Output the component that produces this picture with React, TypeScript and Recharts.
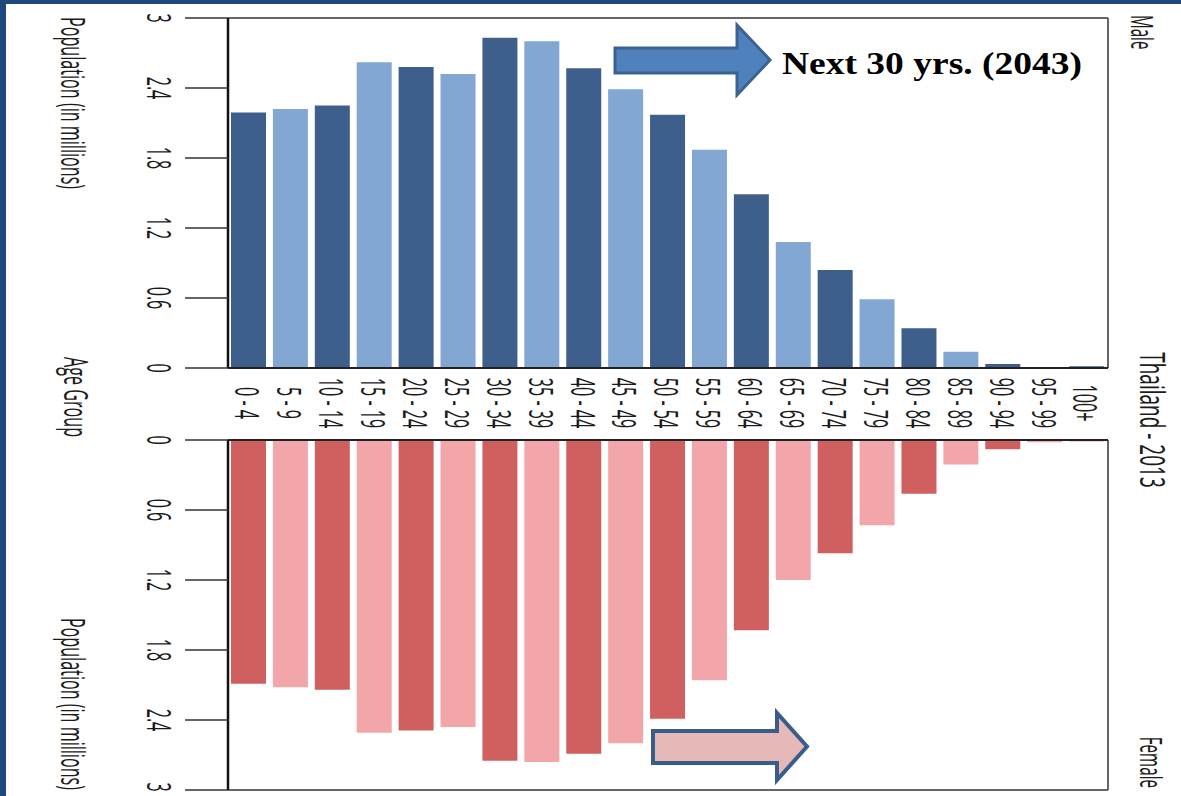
import { Bar, BarChart, Cell, ReferenceLine, XAxis, YAxis } from 'recharts';

const ageGroups = [
  '0 - 4', '5 - 9', '10 - 14', '15 - 19', '20 - 24', '25 - 29', '30 - 34',
  '35 - 39', '40 - 44', '45 - 49', '50 - 54', '55 - 59', '60 - 64', '65 - 69',
  '70 - 74', '75 - 79', '80 - 84', '85 - 89', '90 - 94', '95 - 99', '100+',
];
// population in millions
const maleMillions = [
  2.19, 2.22, 2.25, 2.62, 2.58, 2.52, 2.83, 2.8, 2.57, 2.39, 2.17,
  1.87, 1.49, 1.08, 0.84, 0.59, 0.34, 0.14, 0.035, 0.008, 0.015,
];
const femaleMillions = [
  2.09, 2.12, 2.14, 2.51, 2.49, 2.46, 2.75, 2.76, 2.69, 2.6, 2.39,
  2.06, 1.63, 1.2, 0.97, 0.73, 0.46, 0.21, 0.08, 0.02, 0.01,
];
const popTicks = [0, 0.6, 1.2, 1.8, 2.4, 3];

const maleShades = ['#3e5f8b', '#82a7d3'];
const femaleShades = ['#d06060', '#f3a6a9'];
const FONT = '"Open Sans", "Noto Sans", sans-serif';

const maleData = ageGroups.map((age, i) => ({ age, value: maleMillions[i] }));
const femaleData = ageGroups.map((age, i) => ({ age, value: femaleMillions[i] }));

// text turned a quarter clockwise, baseline on its left side, stretched across
const RotText = ({ x, y, text, size = 17, anchor = 'middle', center = false, sx = 0.95, sy = 1.95 }: any) => (
  <text
    transform={`translate(${x},${y}) rotate(90) scale(${sx},${sy})`}
    textAnchor={anchor}
    dy={center ? '0.35em' : 0}
    fontFamily={FONT}
    fontSize={size}
    fill="#1b1b1b"
  >
    {text}
  </text>
);

const popTick = ({ x, y, payload }: any) => <RotText x={x} y={y} text={String(payload.value)} />;
const ageTick = ({ x, y, payload }: any) => <RotText x={x - 2} y={y} text={payload.value} center />;

const topPopLabel = ({ viewBox }: any) => (
  <RotText x={viewBox.x + 61} y={viewBox.y - 1} text="Population (in millions)" anchor="start" />
);
const bottomPopLabel = ({ viewBox }: any) => (
  <RotText x={viewBox.x + 61} y={viewBox.y + viewBox.height} text="Population (in millions)" anchor="end" />
);
const ageLabel = ({ viewBox }: any) => (
  <g>
    <RotText x={viewBox.x - 164} y={viewBox.y + 29} text="Age Group" />
    <RotText x={viewBox.x + viewBox.width + 32} y={viewBox.y + 52} text="Thailand - 2013" size={20} sy={1.75} />
  </g>
);
const maleLabel = ({ viewBox }: any) => (
  <RotText x={viewBox.x + 23} y={viewBox.y - 3} text="Male" anchor="start" size={16} />
);
const femaleLabel = ({ viewBox }: any) => (
  <RotText x={viewBox.x + 32} y={viewBox.y + viewBox.height - 2} text="Female" anchor="end" size={16} />
);

export default function App() {
  return (
    <div style={{ position: 'absolute', left: 0, top: 0, width: 1181, height: 796, background: '#fff', overflow: 'hidden' }}>
      <div style={{ position: 'absolute', left: 0, top: 0 }}>
        <BarChart width={1181} height={500} data={maleData} margin={{ top: 18, right: 73, bottom: 60, left: 0 }}>
          <XAxis
            dataKey="age"
            height={72}
            interval={0}
            tickSize={0}
            tickMargin={35}
            tick={ageTick}
            axisLine={{ stroke: '#222', strokeWidth: 2 }}
            label={{ content: ageLabel }}
          />
          <YAxis
            domain={[0, 3]}
            ticks={popTicks}
            width={228}
            tickSize={43}
            tickMargin={38}
            tick={popTick}
            tickLine={{ stroke: '#333', strokeWidth: 1.5 }}
            axisLine={{ stroke: '#111', strokeWidth: 2.5 }}
            label={{ content: topPopLabel }}
          />
          <ReferenceLine y={3} stroke="#333" strokeWidth={1.5} />
          <ReferenceLine x="100+" position="end" stroke="#333" strokeWidth={1.5} label={{ content: maleLabel }} />
          <Bar dataKey="value" barSize={35} isAnimationActive={false}>
            {maleData.map((d, i) => (
              <Cell key={d.age} fill={maleShades[i % 2]} />
            ))}
          </Bar>
        </BarChart>
      </div>
      <div style={{ position: 'absolute', left: 0, top: 410 }}>
        <BarChart width={1181} height={386} data={femaleData} margin={{ top: 30, right: 73, bottom: 6, left: 0 }}>
          <XAxis dataKey="age" hide />
          <YAxis
            domain={[0, 3]}
            ticks={popTicks}
            reversed
            width={228}
            tickSize={43}
            tickMargin={38}
            tick={popTick}
            tickLine={{ stroke: '#333', strokeWidth: 1.5 }}
            axisLine={{ stroke: '#111', strokeWidth: 2.5 }}
            label={{ content: bottomPopLabel }}
          />
          <ReferenceLine y={0} stroke="#222" strokeWidth={2} />
          <ReferenceLine y={3} stroke="#333" strokeWidth={1.5} />
          <ReferenceLine x="100+" position="end" stroke="#333" strokeWidth={1.5} label={{ content: femaleLabel }} />
          <Bar dataKey="value" barSize={35} isAnimationActive={false}>
            {femaleData.map((d, i) => (
              <Cell key={d.age} fill={femaleShades[i % 2]} />
            ))}
          </Bar>
        </BarChart>
      </div>
      <svg width={1181} height={796} style={{ position: 'absolute', left: 0, top: 0, pointerEvents: 'none' }}>
        <rect x={0} y={0} width={6} height={796} fill="#1f497d" />
        <rect x={0} y={0} width={1181} height={4} fill="#1f497d" />
        <polygon
          points="615,48 737,48 737,25 770,60 737,95 737,73 615,73"
          fill="#4f81bd"
          stroke="#3b6291"
          strokeWidth={3}
          strokeLinejoin="miter"
        />
        <text
          x={782}
          y={74}
          textLength={300}
          lengthAdjust="spacingAndGlyphs"
          fontFamily='"Liberation Serif", "Times New Roman", serif'
          fontWeight="bold"
          fontSize={31}
          fill="#000"
        >
          Next 30 yrs. (2043)
        </text>
        <polygon
          points="653,731 777,731 777,713 807,746.5 777,780 777,763 653,763"
          fill="#e6b9b8"
          stroke="#385d8a"
          strokeWidth={4}
          strokeLinejoin="miter"
        />
      </svg>
    </div>
  );
}
